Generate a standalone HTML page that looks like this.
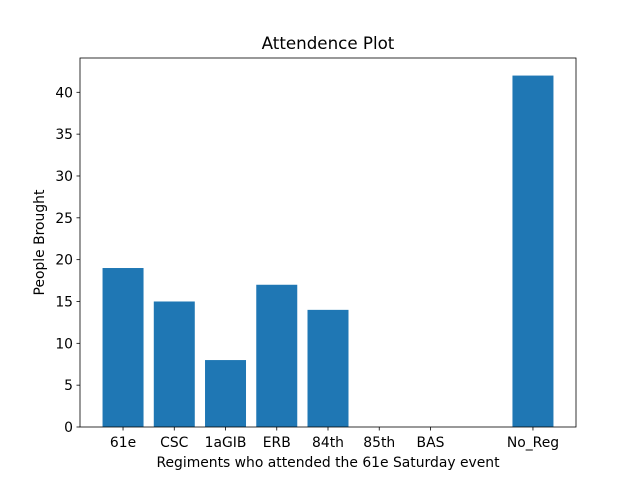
<!DOCTYPE html>
<html><head><meta charset="utf-8"><style>body{margin:0;background:#fff}svg{display:block;font-family:"DejaVu Sans","Liberation Sans",sans-serif}</style></head>
<body>
<svg id="chart" width="640" height="480"></svg>
<script>
const categories = ["61e","CSC","1aGIB","ERB","84th","85th","BAS","","No_Reg"];
const values = [19,15,8,17,14,0,0,0,42];
const yTicks = [0,5,10,15,20,25,30,35,40];
const NS="http://www.w3.org/2000/svg";
const svg=document.getElementById('chart');
const L=80,R=576,T=58,B=427;
const xmin=-0.84,xmax=categories.length-1+0.84;
const ymax=Math.max(...values)*1.05;
const xs=v=>L+(v-xmin)/(xmax-xmin)*(R-L);
const ys=v=>B-v/ymax*(B-T);
function mk(tag,attrs,txt){const e=document.createElementNS(NS,tag);for(const k in attrs)e.setAttribute(k,attrs[k]);if(txt!==undefined)e.textContent=txt;svg.appendChild(e);return e;}
values.forEach((v,i)=>{
  const r=mk('rect',{x:xs(i-0.4),y:ys(v),width:xs(i+0.4)-xs(i-0.4),height:B-ys(v),fill:'#1f77b4'});
  
  
  if(categories[i]){
    mk('line',{x1:xs(i),x2:xs(i),y1:B,y2:B+3.5,stroke:'#000','stroke-width':0.8});
    const t=mk('text',{x:xs(i),y:B+20,'text-anchor':'middle','font-size':13.9},categories[i]);
    
    
  }
});
yTicks.forEach(v=>{
  mk('line',{x1:L-3.5,x2:L,y1:ys(v),y2:ys(v),stroke:'#000','stroke-width':0.8});
  const t=mk('text',{x:L-7,y:ys(v)+5,'text-anchor':'end','font-size':13.9},String(v));
  
  
});
const f=mk('rect',{x:L,y:T,width:R-L,height:B-T,fill:'none',stroke:'#000','stroke-width':0.8});


const ti=mk('text',{x:(L+R)/2,y:49,'text-anchor':'middle','font-size':16.7},'Attendence Plot');


const xl=mk('text',{x:(L+R)/2,y:467,'text-anchor':'middle','font-size':13.9},'Regiments who attended the 61e Saturday event');


const yl=mk('text',{x:44,y:(T+B)/2,'text-anchor':'middle','font-size':13.9,transform:'rotate(-90 44 '+((T+B)/2)+')'},'People Brought');


</script>
</body></html>
